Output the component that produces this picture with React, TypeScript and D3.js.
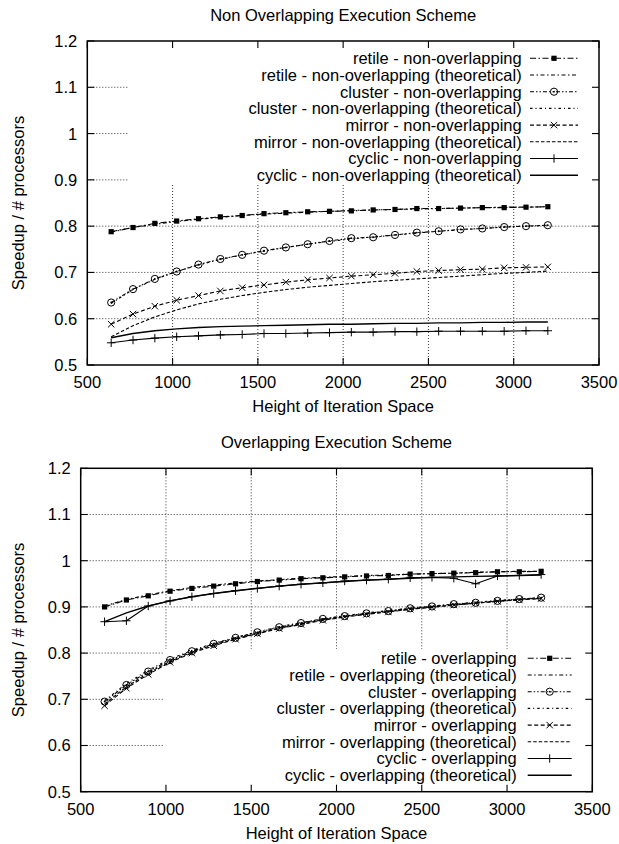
import React from "react";
import { scaleLinear, line } from "d3";

const heights = [640, 768, 896, 1024, 1152, 1280, 1408, 1536, 1664, 1792, 1920, 2048, 2176, 2304, 2432, 2560, 2688, 2816, 2944, 3072, 3200];
const xTicks = [500, 1000, 1500, 2000, 2500, 3000, 3500];
const yTicks = [0.5, 0.6, 0.7, 0.8, 0.9, 1, 1.1, 1.2];
const yTickLabels = ["0.5", "0.6", "0.7", "0.8", "0.9", "1", "1.1", "1.2"];

// non overlapping scheme
const retileNon = [0.788, 0.797, 0.806, 0.811, 0.816, 0.82, 0.823, 0.827, 0.829, 0.831, 0.832, 0.833, 0.835, 0.836, 0.838, 0.838, 0.839, 0.84, 0.84, 0.841, 0.842];
const retileNonTh = [0.787, 0.797, 0.804, 0.81, 0.815, 0.819, 0.823, 0.826, 0.828, 0.83, 0.832, 0.834, 0.835, 0.836, 0.837, 0.838, 0.839, 0.84, 0.841, 0.841, 0.842];
const clusterNon = [0.635, 0.664, 0.686, 0.702, 0.717, 0.729, 0.738, 0.747, 0.754, 0.761, 0.768, 0.774, 0.776, 0.781, 0.786, 0.789, 0.793, 0.795, 0.798, 0.8, 0.802];
const clusterNonTh = [0.633, 0.663, 0.685, 0.702, 0.716, 0.728, 0.738, 0.746, 0.754, 0.761, 0.767, 0.772, 0.777, 0.781, 0.785, 0.789, 0.792, 0.795, 0.798, 0.8, 0.802];
const mirrorNon = [0.588, 0.61, 0.627, 0.64, 0.65, 0.66, 0.667, 0.673, 0.679, 0.684, 0.688, 0.692, 0.695, 0.698, 0.702, 0.704, 0.706, 0.707, 0.71, 0.711, 0.712];
const mirrorNonTh = [0.561, 0.585, 0.604, 0.619, 0.632, 0.642, 0.65, 0.657, 0.663, 0.668, 0.672, 0.676, 0.68, 0.683, 0.686, 0.689, 0.692, 0.695, 0.698, 0.7, 0.703];
const cyclicNon = [0.548, 0.554, 0.558, 0.561, 0.563, 0.565, 0.566, 0.568, 0.568, 0.569, 0.57, 0.571, 0.571, 0.572, 0.572, 0.573, 0.573, 0.573, 0.573, 0.574, 0.574];
const cyclicNonTh = [0.559, 0.568, 0.574, 0.578, 0.581, 0.583, 0.584, 0.585, 0.586, 0.587, 0.588, 0.588, 0.589, 0.59, 0.59, 0.591, 0.591, 0.592, 0.592, 0.593, 0.593];

// overlapping scheme
const retileOv = [0.9, 0.915, 0.924, 0.934, 0.94, 0.945, 0.95, 0.955, 0.958, 0.961, 0.963, 0.965, 0.967, 0.968, 0.971, 0.972, 0.973, 0.974, 0.976, 0.976, 0.977];
const retileOvTh = [0.902, 0.916, 0.926, 0.935, 0.942, 0.947, 0.952, 0.956, 0.959, 0.962, 0.964, 0.966, 0.968, 0.969, 0.971, 0.972, 0.973, 0.975, 0.976, 0.977, 0.977];
const clusterOv = [0.695, 0.731, 0.76, 0.785, 0.804, 0.82, 0.833, 0.845, 0.856, 0.865, 0.874, 0.88, 0.886, 0.891, 0.897, 0.901, 0.906, 0.909, 0.913, 0.917, 0.92];
const clusterOvTh = [0.697, 0.734, 0.763, 0.787, 0.806, 0.821, 0.834, 0.846, 0.857, 0.866, 0.874, 0.881, 0.887, 0.892, 0.897, 0.902, 0.906, 0.91, 0.914, 0.917, 0.92];
const mirrorOv = [0.686, 0.724, 0.754, 0.78, 0.8, 0.816, 0.83, 0.842, 0.853, 0.862, 0.871, 0.878, 0.884, 0.889, 0.895, 0.899, 0.904, 0.908, 0.912, 0.915, 0.918];
const mirrorOvTh = [0.69, 0.727, 0.757, 0.782, 0.802, 0.818, 0.831, 0.843, 0.854, 0.863, 0.872, 0.879, 0.885, 0.89, 0.895, 0.9, 0.904, 0.908, 0.912, 0.916, 0.919];
const cyclicOv = [0.868, 0.87, 0.902, 0.913, 0.922, 0.929, 0.935, 0.94, 0.945, 0.949, 0.952, 0.956, 0.958, 0.96, 0.963, 0.964, 0.962, 0.95, 0.967, 0.968, 0.97];
const cyclicOvTh = [0.868, 0.887, 0.902, 0.913, 0.922, 0.929, 0.935, 0.94, 0.945, 0.949, 0.952, 0.955, 0.958, 0.96, 0.962, 0.964, 0.965, 0.966, 0.967, 0.968, 0.969];

const nonLabels = [
  "retile - non-overlapping",
  "retile - non-overlapping (theoretical)",
  "cluster - non-overlapping",
  "cluster - non-overlapping (theoretical)",
  "mirror - non-overlapping",
  "mirror - non-overlapping (theoretical)",
  "cyclic - non-overlapping",
  "cyclic - non-overlapping (theoretical)",
];
const ovLabels = [
  "retile - overlapping",
  "retile - overlapping (theoretical)",
  "cluster - overlapping",
  "cluster - overlapping (theoretical)",
  "mirror - overlapping",
  "mirror - overlapping (theoretical)",
  "cyclic - overlapping",
  "cyclic - overlapping (theoretical)",
];

// line style per series slot (same order as the legend)
const styles = [
  { dash: "6,2.5,1.5,2.5", marker: "square" },
  { dash: "4,2.5,1.5,2.5", marker: null },
  { dash: "4,2,1.5,2,1.5,2", marker: "circle" },
  { dash: "2.5,3,1,3", marker: null },
  { dash: "4,2.5", marker: "cross" },
  { dash: "3.5,2", marker: null },
  { dash: null, marker: "plus" },
  { dash: null, marker: null },
];

const FONT = "'Liberation Sans', Arial, Helvetica, sans-serif";

function Marker({ kind, x, y }) {
  if (kind === "square") return <rect x={x - 2.6} y={y - 2.6} width={5.2} height={5.2} fill="#000" />;
  if (kind === "circle")
    return (
      <g>
        <circle cx={x} cy={y} r={3.6} fill="none" stroke="#000" strokeWidth={1} />
        <circle cx={x} cy={y} r={0.9} fill="#000" />
      </g>
    );
  if (kind === "cross")
    return (
      <path d={`M${x - 3.2},${y - 3.2}L${x + 3.2},${y + 3.2}M${x - 3.2},${y + 3.2}L${x + 3.2},${y - 3.2}`} stroke="#000" strokeWidth={1} />
    );
  if (kind === "plus")
    return <path d={`M${x - 4.2},${y}L${x + 4.2},${y}M${x},${y - 4.2}L${x},${y + 4.2}`} stroke="#000" strokeWidth={1} />;
  return null;
}

function Panel({ title, labels, series, frame, legend }) {
  const { left, right, top, bottom } = frame;
  const x = scaleLinear().domain([500, 3500]).range([left, right]);
  const y = scaleLinear().domain([0.5, 1.2]).range([bottom, top]);
  const path = line<number>()
    .x((_, i) => x(heights[i]))
    .y((d) => y(d));
  const tick = 7;
  const box = legend.box;

  return (
    <g fontFamily={FONT} fontSize={16.5}>
      <text x={(left + right) / 2} y={top - 20} textAnchor="middle">
        {title}
      </text>

      {/* grid */}
      {xTicks.slice(1, -1).map((t) => (
        <line key={"gx" + t} x1={x(t)} x2={x(t)} y1={top} y2={bottom} stroke="#222" strokeWidth={0.9} strokeDasharray="1,2" />
      ))}
      {yTicks.slice(1, -1).map((t) => (
        <line key={"gy" + t} x1={left} x2={right} y1={y(t)} y2={y(t)} stroke="#222" strokeWidth={0.9} strokeDasharray="1,2" />
      ))}

      {/* opaque key box */}
      <rect x={box[0]} y={box[1]} width={box[2] - box[0]} height={box[3] - box[1]} fill="#fff" />

      {/* curves */}
      {series.map((vals, i) => (
        <g key={"s" + i}>
          <path
            d={path(vals) || ""}
            fill="none"
            stroke="#000"
            strokeWidth={i === 7 ? 1.4 : 1.1}
            strokeDasharray={styles[i].dash || undefined}
            strokeLinejoin="round"
          />
          {styles[i].marker &&
            vals.map((v, j) => <Marker key={j} kind={styles[i].marker} x={x(heights[j])} y={y(v)} />)}
        </g>
      ))}

      {/* border + ticks */}
      <rect x={left} y={top} width={right - left} height={bottom - top} fill="none" stroke="#000" strokeWidth={1.5} />
      {xTicks.map((t) => (
        <g key={"tx" + t}>
          <line x1={x(t)} x2={x(t)} y1={bottom} y2={bottom - tick} stroke="#000" strokeWidth={1.1} />
          <line x1={x(t)} x2={x(t)} y1={top} y2={top + tick} stroke="#000" strokeWidth={1.1} />
          <text x={x(t)} y={bottom + 23} textAnchor="middle">
            {t}
          </text>
        </g>
      ))}
      {yTicks.map((t, i) => (
        <g key={"ty" + t}>
          <line x1={left} x2={left + tick} y1={y(t)} y2={y(t)} stroke="#000" strokeWidth={1.1} />
          <line x1={right} x2={right - tick} y1={y(t)} y2={y(t)} stroke="#000" strokeWidth={1.1} />
          <text x={left - 10} y={y(t)} dy="0.36em" textAnchor="end">
            {yTickLabels[i]}
          </text>
        </g>
      ))}

      <text x={(left + right) / 2} y={bottom + 47} textAnchor="middle">
        Height of Iteration Space
      </text>
      <text transform={`translate(${24},${(top + bottom) / 2}) rotate(-90)`} textAnchor="middle">
        Speedup / # processors
      </text>

      {/* legend */}
      {labels.map((lab, i) => {
        const ry = legend.firstRow + i * 16.7;
        return (
          <g key={"k" + i}>
            <text x={legend.textRight} y={ry} dy="0.36em" textAnchor="end">
              {lab}
            </text>
            <line
              x1={legend.x1}
              x2={legend.x2}
              y1={ry}
              y2={ry}
              stroke="#000"
              strokeWidth={i === 7 ? 1.4 : 1.1}
              strokeDasharray={styles[i].dash || undefined}
            />
            {styles[i].marker && <Marker kind={styles[i].marker} x={(legend.x1 + legend.x2) / 2} y={ry} />}
          </g>
        );
      })}
    </g>
  );
}

export default function App() {
  return (
    <svg width={619} height={844} style={{ position: "absolute", left: 0, top: 0, background: "#fff" }}>
      <Panel
        title="Non Overlapping Execution Scheme"
        labels={nonLabels}
        series={[retileNon, retileNonTh, clusterNon, clusterNonTh, mirrorNon, mirrorNonTh, cyclicNon, cyclicNonTh]}
        frame={{ left: 87.3, right: 599, top: 41, bottom: 365 }}
        legend={{ textRight: 521.7, x1: 530, x2: 578, firstRow: 58.3, box: [128, 41, 599, 183] }}
      />
      <Panel
        title="Overlapping Execution Scheme"
        labels={ovLabels}
        series={[retileOv, retileOvTh, clusterOv, clusterOvTh, mirrorOv, mirrorOvTh, cyclicOv, cyclicOvTh]}
        frame={{ left: 80.7, right: 592.3, top: 468.3, bottom: 791.7 }}
        legend={{ textRight: 516.7, x1: 527.7, x2: 571.7, firstRow: 658.3, box: [164, 649, 592.3, 791.7] }}
      />
    </svg>
  );
}
